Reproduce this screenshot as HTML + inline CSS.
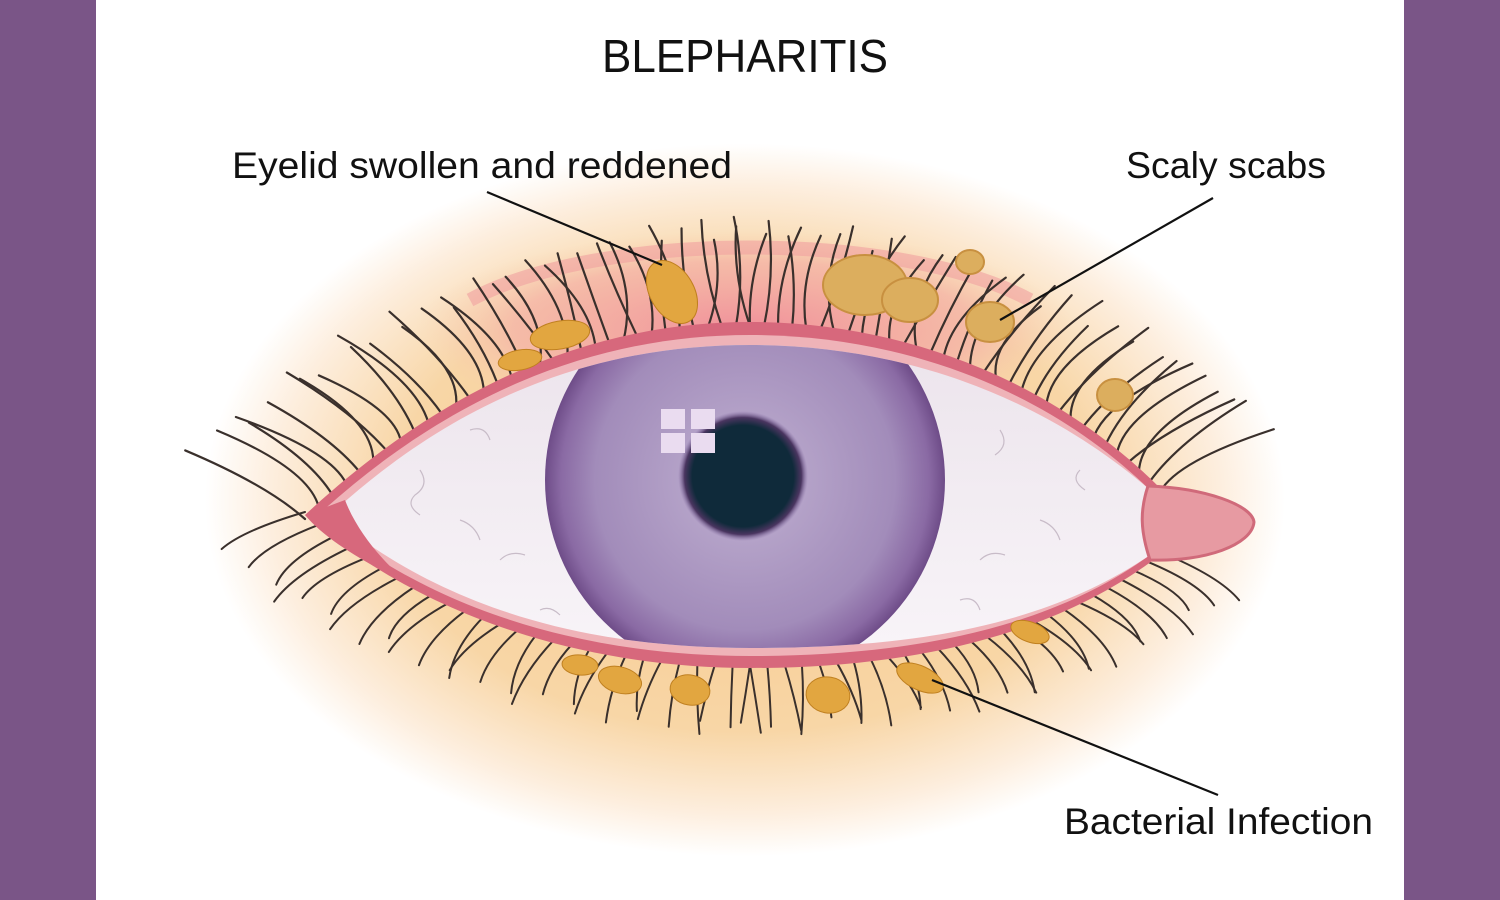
<!DOCTYPE html>
<html><head><meta charset="utf-8"><style>
html,body{margin:0;padding:0;width:1500px;height:900px;overflow:hidden;background:#fff}
svg{display:block}
text{font-family:"Liberation Sans",sans-serif;fill:#111}
</style></head><body>
<svg id="s" width="1500" height="900" viewBox="0 0 1500 900" xmlns="http://www.w3.org/2000/svg">
<defs>
<radialGradient id="glow" cx="745" cy="500" r="540" gradientUnits="userSpaceOnUse" gradientTransform="translate(745 500) scale(1 0.66) translate(-745 -500)">
<stop offset="0" stop-color="#f6c98e"/><stop offset="0.65" stop-color="#f8d6a6"/><stop offset="0.88" stop-color="#fdeede"/><stop offset="1" stop-color="#ffffff"/>
</radialGradient>
<radialGradient id="red" cx="745" cy="330" r="330" gradientUnits="userSpaceOnUse" gradientTransform="translate(745 330) scale(1 0.3) translate(-745 -330)">
<stop offset="0" stop-color="#f0909a"/><stop offset="0.7" stop-color="#f4b0a8" stop-opacity="0.7"/><stop offset="1" stop-color="#f8d0b0" stop-opacity="0"/>
</radialGradient>
<radialGradient id="iris" cx="745" cy="480" r="200" gradientUnits="userSpaceOnUse">
<stop offset="0.3" stop-color="#b4a2c8"/><stop offset="0.75" stop-color="#a28cba"/><stop offset="0.92" stop-color="#8a6aa4"/><stop offset="1" stop-color="#6e4c88"/>
</radialGradient>
<radialGradient id="pup" cx="743" cy="476" r="65" gradientUnits="userSpaceOnUse">
<stop offset="0.78" stop-color="#0f2a3a"/><stop offset="0.9" stop-color="#4a3560"/><stop offset="1" stop-color="#8a72a8" stop-opacity="0"/>
</radialGradient>
<linearGradient id="scl" x1="0" y1="0" x2="0" y2="1"><stop offset="0" stop-color="#ece4ec"/><stop offset="1" stop-color="#f8f4f8"/></linearGradient>
<clipPath id="eyeclip"><path d="M330,515 C460,395 600,345 750,345 C900,345 1040,395 1150,490 L1150,555 C1040,630 900,648 750,648 C600,648 450,615 330,515 Z"/></clipPath>
</defs>
<rect x="0" y="0" width="1500" height="900" fill="#fff"/>
<ellipse cx="745" cy="500" rx="545" ry="365" fill="url(#glow)"/>
<ellipse cx="745" cy="320" rx="330" ry="110" fill="url(#red)"/>
<path d="M470,300 C600,230 900,230 1030,300" stroke="#f0a0a0" stroke-width="14" fill="none" opacity="0.6"/>
<g id="lashes"></g>
<path d="M305,515 C450,380 600,322 750,322 C900,322 1050,378 1160,488 L1250,520 L1160,555 C1050,640 900,668 750,668 C600,668 430,625 305,515 Z" fill="#d7687c"/>
<path d="M318,515 C455,390 600,335 750,335 C900,335 1045,388 1150,490 L1150,555 C1045,632 900,656 750,656 C600,656 440,618 318,515 Z" fill="#efb3b8"/>
<path d="M330,515 C460,395 600,345 750,345 C900,345 1040,395 1150,490 L1150,555 C1040,630 900,648 750,648 C600,648 450,615 330,515 Z" fill="url(#scl)"/>
<g clip-path="url(#eyeclip)">
<g stroke="#c8bcc8" stroke-width="1.2" fill="none">
<path d="M420,470 q10,15 -5,25 q-10,10 5,20"/><path d="M460,520 q15,5 20,20"/><path d="M500,560 q10,-10 25,-5"/><path d="M470,430 q15,-5 20,10"/>
<path d="M1000,430 q10,15 -5,25"/><path d="M1040,520 q15,5 20,20"/><path d="M980,560 q10,-10 25,-5"/><path d="M1080,470 q-10,10 5,20"/><path d="M960,600 q15,-5 20,10"/><path d="M540,610 q10,-5 20,5"/>
</g>
<circle cx="745" cy="480" r="200" fill="url(#iris)"/>
<circle cx="743" cy="476" r="65" fill="url(#pup)"/>
<g fill="#eadcf0"><rect x="661" y="409" width="24" height="20"/><rect x="691" y="409" width="24" height="20"/><rect x="661" y="433" width="24" height="20"/><rect x="691" y="433" width="24" height="20"/></g>
</g>
<path d="M1148,486 C1205,488 1252,505 1254,522 C1252,545 1205,562 1150,560 C1140,530 1140,510 1148,486 Z" fill="#e79aa2" stroke="#d06a7a" stroke-width="3"/>
<path d="M305,515 L345,500 C360,540 400,580 420,590 C380,570 330,545 305,515 Z" fill="#d7687c"/>
<g id="blobs"></g>
<g stroke="#111" stroke-width="2.2">
<line x1="487" y1="192" x2="662" y2="265"/><line x1="1213" y1="198" x2="1000" y2="320"/><line x1="932" y1="680" x2="1218" y2="795"/>
</g>
<text x="745" y="72" font-size="46" text-anchor="middle" textLength="286" lengthAdjust="spacingAndGlyphs">BLEPHARITIS</text>
<text x="232" y="178" font-size="37" textLength="500" lengthAdjust="spacingAndGlyphs">Eyelid swollen and reddened</text>
<text x="1126" y="178" font-size="37" textLength="200" lengthAdjust="spacingAndGlyphs">Scaly scabs</text>
<text x="1064" y="834" font-size="37" textLength="309" lengthAdjust="spacingAndGlyphs">Bacterial Infection</text>
<rect x="0" y="0" width="96" height="900" fill="#7a5587"/>
<rect x="1404" y="0" width="96" height="900" fill="#7a5587"/>
</svg>
<script>
(function(){
var NS="http://www.w3.org/2000/svg",g=document.getElementById("lashes"),b=document.getElementById("blobs");
function bez(p0,p1,p2,p3,t){var u=1-t;return [u*u*u*p0[0]+3*u*u*t*p1[0]+3*u*t*t*p2[0]+t*t*t*p3[0],u*u*u*p0[1]+3*u*u*t*p1[1]+3*u*t*t*p2[1]+t*t*t*p3[1]];}
function lash(x,y,dx,dy,curl,w){var p=document.createElementNS(NS,"path");
var mx=x+dx*0.5+curl,my=y+dy*0.5;p.setAttribute("d","M"+x+","+y+" Q"+mx+","+my+" "+(x+dx)+","+(y+dy));
p.setAttribute("stroke","#3a302c");p.setAttribute("stroke-width",w);p.setAttribute("fill","none");p.setAttribute("stroke-linecap","round");g.appendChild(p);}
var segs=[[[305,515],[450,380],[600,322],[750,322]],[[750,322],[900,322],[1050,378],[1160,488]]];
for(var s=0;s<2;s++)for(var i=0;i<=32;i++){var t=i/32;var pt=bez(segs[s][0],segs[s][1],segs[s][2],segs[s][3],t);
var gx=(pt[0]-745)/420;var len=70+20*Math.sin((i*7)%11)*0.5+30*(1-Math.abs(gx));
var dx=gx*100+((i%3)-1)*15,dy=-len;lash(pt[0],pt[1]+4,dx,dy,gx*-30+((i%2)?10:-10),2.2);}
var low=[[305,515],[430,625],[600,668],[750,668]],low2=[[750,668],[900,668],[1050,640],[1160,555]];
[low,low2].forEach(function(c){for(var i=0;i<=26;i++){var t=i/26;var pt=bez(c[0],c[1],c[2],c[3],t);var gx=(pt[0]-745)/420;
lash(pt[0],pt[1]-3,gx*70+((i%3)-1)*10,38+20*(1-Math.abs(gx))+((i%4)*5),gx*20,2);}});
var ys=[[672,292,22,34,-30],[560,335,30,14,-10],[520,360,22,10,-10],[620,680,22,13,15],[690,690,20,15,10],[828,695,22,18,10],[920,678,25,12,25],[1030,632,20,10,20],[580,665,18,10,5]];
ys.forEach(function(e){var el=document.createElementNS(NS,"ellipse");el.setAttribute("cx",e[0]);el.setAttribute("cy",e[1]);el.setAttribute("rx",e[2]);el.setAttribute("ry",e[3]);
el.setAttribute("transform","rotate("+e[4]+" "+e[0]+" "+e[1]+")");el.setAttribute("fill","#e2a640");el.setAttribute("stroke","#c08020");b.appendChild(el);});
var sc=[[865,285,42,30],[910,300,28,22],[970,262,14,12],[990,322,24,20],[1115,395,18,16]];
sc.forEach(function(e){var el=document.createElementNS(NS,"ellipse");el.setAttribute("cx",e[0]);el.setAttribute("cy",e[1]);el.setAttribute("rx",e[2]);el.setAttribute("ry",e[3]);
el.setAttribute("fill","#dcae5e");el.setAttribute("stroke","#c89040");el.setAttribute("stroke-width","2");b.appendChild(el);});
})();
</script>
</body></html>
